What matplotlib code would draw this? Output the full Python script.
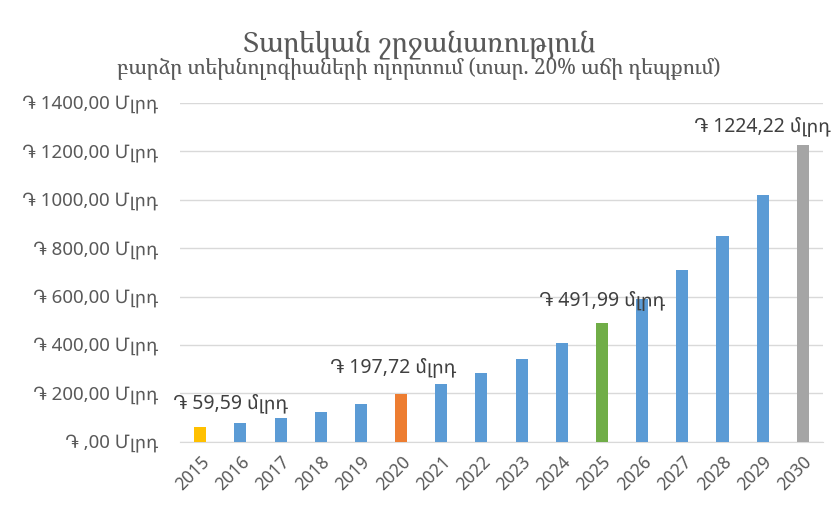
import numpy as np
import matplotlib
matplotlib.use('Agg')
import matplotlib.pyplot as plt

plt.rcParams['font.family'] = ['Noto Sans Armenian', 'Liberation Sans', 'DejaVu Sans']
serif = ['Noto Serif Armenian', 'DejaVu Serif']

# data
years = ['2015', '2016', '2017', '2018', '2019', '2020', '2021', '2022',
         '2023', '2024', '2025', '2026', '2027', '2028', '2029', '2030']
turnover = [59.59, 76.0, 97.0, 124.0, 158.0, 197.72, 237.26, 284.72,
            341.66, 409.99, 491.99, 590.39, 708.47, 850.16, 1020.19, 1224.22]
labeled = {'2015': '֏ 59,59 մլրդ', '2020': '֏ 197,72 մլրդ',
           '2025': '֏ 491,99 մլրդ', '2030': '֏ 1224,22 մլրդ'}
yticks = [0, 200, 400, 600, 800, 1000, 1200, 1400]

colors = ['#5B9BD5'] * len(years)
colors[0] = '#FFC000'
colors[5] = '#ED7D31'
colors[10] = '#70AD47'
colors[15] = '#A5A5A5'

fig = plt.figure(figsize=(8.38, 5.12), dpi=100)
ax = fig.add_axes([0.215, 0.137, 0.767, 0.662])
x = np.arange(len(years))
ax.bar(x, turnover, width=0.3, color=colors, zorder=3)

ax.set_xlim(-0.5, len(years) - 0.5)
ax.set_ylim(0, 1400)
ax.set_yticks(yticks)
ax.set_yticklabels(['֏ ' + (f'{v:.2f}'.replace('.', ',') if v else ',00') + ' Մլրդ'
                    for v in yticks])
ax.set_xticks(x)
ax.set_xticklabels(years, rotation=45, ha='right', rotation_mode='anchor')
ax.tick_params(axis='both', length=0, colors='#595959')
ax.tick_params(axis='y', pad=16, labelsize=13.5)
ax.tick_params(axis='x', pad=8, labelsize=12.5)
ax.grid(axis='y', color='#D9D9D9', linewidth=1, zorder=0)
for s in ['top', 'right', 'left']:
    ax.spines[s].set_visible(False)
ax.spines['bottom'].set_color('#D9D9D9')

# data labels (offsets in points from the bar top)
offs = {'2015': (22, 17), '2020': (-6, 19), '2025': (0, 16), '2030': (-29, 13)}
for i, yr in enumerate(years):
    if yr in labeled:
        ax.annotate(labeled[yr], (i, turnover[i]), xytext=offs[yr],
                    textcoords='offset points', ha='center', va='center',
                    fontsize=14, color='#404040')

fig.text(0.5, 0.913, 'Տարեկան շրջանառություն', ha='center', va='center',
         fontsize=20, color='#595959', family=serif)
fig.text(0.5, 0.866, 'բարձր տեխնոլոգիաների ոլորտում (տար. 20% աճի դեպքում)',
         ha='center', va='center', fontsize=15, color='#595959', family=serif)

fig.savefig('out.png', dpi=100)
